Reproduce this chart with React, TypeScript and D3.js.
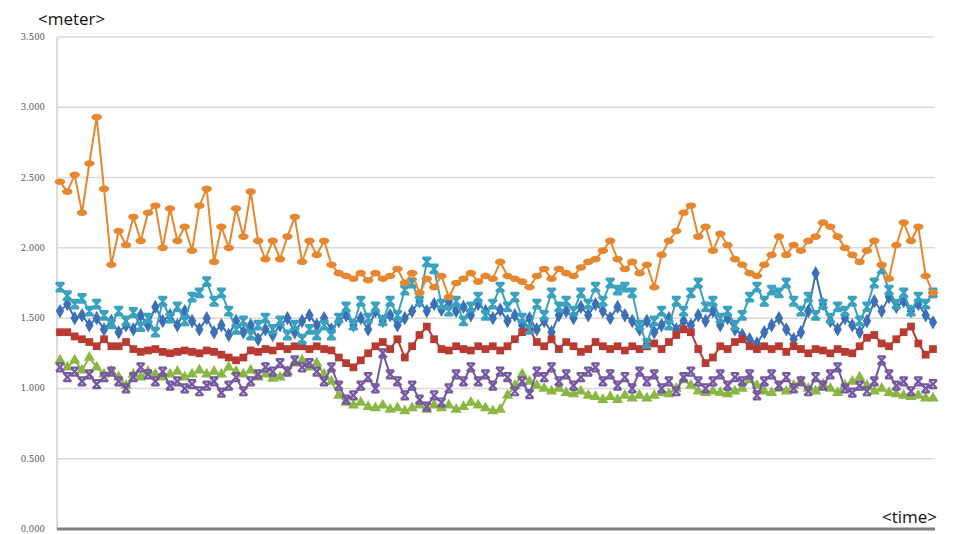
import React, { useEffect, useRef } from "react";
import { select, scaleLinear, line, symbol, symbolDiamond, symbolSquare, symbolTriangle } from "d3";

// readings (meter), one per time step
const blueDiamond = [
  1.55, 1.6, 1.5, 1.52, 1.45, 1.5, 1.42, 1.48, 1.4, 1.45, 1.42, 1.52, 1.45, 1.58, 1.48, 1.52, 1.45, 1.55, 1.48, 1.42,
  1.5, 1.4, 1.45, 1.38, 1.48, 1.4, 1.45, 1.35, 1.42, 1.38, 1.45, 1.5, 1.4, 1.48, 1.52, 1.45, 1.5, 1.42, 1.48, 1.52,
  1.45, 1.5, 1.42, 1.55, 1.48, 1.52, 1.45, 1.5, 1.55, 1.62, 1.55, 1.6, 1.56, 1.62, 1.55, 1.58, 1.52, 1.6, 1.55, 1.5,
  1.56, 1.48, 1.52, 1.45, 1.5, 1.42, 1.48, 1.4, 1.52, 1.55, 1.5, 1.58, 1.52, 1.6, 1.55, 1.5, 1.58, 1.52, 1.48, 1.42,
  1.48, 1.4, 1.45, 1.5, 1.42, 1.48, 1.45, 1.52, 1.48, 1.55, 1.45, 1.5, 1.42, 1.38, 1.35, 1.32, 1.4, 1.45, 1.5, 1.42,
  1.35, 1.4, 1.55, 1.82, 1.6, 1.48, 1.42, 1.5, 1.45, 1.4, 1.48, 1.62, 1.55, 1.65, 1.58, 1.62, 1.55, 1.6, 1.52, 1.47
];
const redSquare = [
  1.4, 1.4, 1.37, 1.35, 1.33, 1.3, 1.35, 1.3, 1.3, 1.33, 1.28, 1.26, 1.27, 1.28, 1.26, 1.25, 1.26, 1.27, 1.26, 1.25,
  1.27, 1.26, 1.24, 1.22, 1.2, 1.22, 1.27, 1.26, 1.28, 1.27, 1.3, 1.28, 1.3, 1.3, 1.28, 1.3, 1.28, 1.27, 1.22, 1.18,
  1.15, 1.2, 1.25, 1.3, 1.33, 1.28, 1.35, 1.22, 1.3, 1.38, 1.44, 1.35, 1.28, 1.27, 1.3, 1.28, 1.27, 1.3, 1.28, 1.3,
  1.27, 1.3, 1.35, 1.4, 1.42, 1.33, 1.3, 1.35, 1.28, 1.33, 1.3, 1.26, 1.28, 1.33, 1.3, 1.28, 1.3, 1.27, 1.3, 1.28,
  1.3, 1.32, 1.28, 1.33, 1.38, 1.42, 1.4, 1.28, 1.18, 1.22, 1.3, 1.28, 1.33, 1.35, 1.3, 1.28, 1.3, 1.28, 1.3, 1.26,
  1.3, 1.28, 1.25, 1.28, 1.27, 1.25, 1.28, 1.26, 1.25, 1.3, 1.36, 1.38, 1.32, 1.3, 1.35, 1.4, 1.44, 1.32, 1.24, 1.28
];
const greenTriangle = [
  1.2, 1.15, 1.2, 1.13, 1.22, 1.15, 1.1, 1.12, 1.08, 1.02, 1.1, 1.08, 1.12, 1.1, 1.08, 1.1, 1.12, 1.08, 1.1, 1.13,
  1.1, 1.12, 1.1, 1.15, 1.12, 1.1, 1.13, 1.08, 1.1, 1.07, 1.08, 1.12, 1.18, 1.2, 1.15, 1.18, 1.1, 1.05, 0.95, 0.9,
  0.88, 0.9, 0.87, 0.86, 0.88, 0.85, 0.86, 0.84, 0.86, 0.88, 0.85, 0.88, 0.86, 0.88, 0.85, 0.87, 0.9, 0.88, 0.86, 0.84,
  0.85, 0.95, 1.02, 1.1, 1.05, 1.02, 1.0, 0.98, 1.0, 0.97, 0.96, 0.98, 0.95, 0.94, 0.92, 0.94, 0.92, 0.95, 0.93, 0.95,
  0.93, 0.95, 0.97, 0.96, 1.0, 1.06, 1.02, 0.98, 0.97, 0.98, 0.97, 0.96, 0.98, 1.0, 1.06, 1.02, 0.98, 0.97, 1.0, 0.98,
  1.02, 1.05, 1.0, 0.98, 1.03, 1.0, 0.97, 1.02, 1.05, 1.08, 1.02, 0.98, 1.0, 0.97, 0.96, 0.95, 0.94, 0.95, 0.93, 0.93
];
const purpleCross = [
  1.15, 1.08, 1.12, 1.05, 1.1, 1.03, 1.08, 1.12, 1.05, 1.0, 1.08, 1.15, 1.1, 1.05, 1.12, 1.02, 1.05, 1.0, 1.03, 0.98,
  1.02, 1.05, 0.97, 1.02, 1.08, 0.98, 1.05, 1.1, 1.15, 1.12, 1.18, 1.12, 1.2, 1.15, 1.18, 1.12, 1.05, 1.15, 1.02, 0.92,
  0.95, 1.02, 1.08, 1.0, 1.25, 1.1, 1.05, 0.95, 1.02, 0.92, 0.87, 0.95, 0.9, 1.0, 1.1, 1.05, 1.15, 1.05, 1.1, 1.02,
  1.12, 1.08, 0.98, 1.05, 0.96, 1.12, 1.08, 1.15, 1.05, 1.1, 1.02, 1.08, 1.12, 1.15, 1.05, 1.1, 1.02, 1.08, 1.0, 1.12,
  1.05, 1.1, 1.0, 1.05, 0.98, 1.08, 1.12, 1.05, 1.0, 1.05, 1.1, 1.02, 1.08, 1.05, 1.1, 0.95, 1.05, 1.1, 1.02, 1.08,
  1.0, 1.05, 0.98, 1.08, 1.02, 1.1, 1.15, 1.0, 0.97, 1.02, 0.98, 1.05, 1.2, 1.1, 1.02, 1.05, 0.98, 1.05, 1.0, 1.03
];
const tealStar = [
  1.72, 1.66, 1.6, 1.64, 1.55, 1.6, 1.52, 1.46, 1.55, 1.48, 1.54, 1.44, 1.5, 1.4, 1.62, 1.5, 1.58, 1.48, 1.65, 1.68,
  1.76, 1.62, 1.68, 1.55, 1.42, 1.48, 1.38, 1.45, 1.5, 1.42, 1.48, 1.38, 1.45, 1.35, 1.42, 1.38, 1.45, 1.38, 1.5, 1.58,
  1.45, 1.62, 1.5, 1.58, 1.48, 1.62, 1.52, 1.7, 1.75, 1.62, 1.9, 1.85, 1.6, 1.55, 1.62, 1.48, 1.58, 1.65, 1.52, 1.6,
  1.72, 1.58, 1.65, 1.5, 1.42, 1.6, 1.52, 1.68, 1.58, 1.62, 1.55, 1.68, 1.6, 1.72, 1.62, 1.75, 1.7, 1.72, 1.68, 1.45,
  1.32, 1.48, 1.55, 1.45, 1.62, 1.55, 1.68, 1.75, 1.58, 1.62, 1.5, 1.55, 1.45, 1.52, 1.65, 1.72, 1.62, 1.7, 1.68, 1.75,
  1.62, 1.55, 1.65, 1.52, 1.6, 1.5, 1.58, 1.55, 1.62, 1.48, 1.58, 1.75, 1.85, 1.7, 1.6, 1.68, 1.55, 1.65, 1.6, 1.68
];
const orangeCircle = [
  2.47, 2.4, 2.52, 2.25, 2.6, 2.93, 2.42, 1.88, 2.12, 2.02, 2.22, 2.05, 2.25, 2.3, 2.0, 2.28, 2.05, 2.15, 1.98, 2.3,
  2.42, 1.9, 2.15, 2.0, 2.28, 2.08, 2.4, 2.05, 1.92, 2.05, 1.92, 2.08, 2.22, 1.9, 2.05, 1.95, 2.05, 1.88, 1.82, 1.8,
  1.78, 1.82, 1.77, 1.82, 1.78, 1.8, 1.85, 1.75, 1.82, 1.68, 1.78, 1.72, 1.8, 1.65, 1.75, 1.78, 1.82, 1.76, 1.8, 1.78,
  1.9, 1.8, 1.78, 1.76, 1.72, 1.8, 1.85, 1.78, 1.85, 1.82, 1.8, 1.86, 1.9, 1.92, 1.98, 2.05, 1.92, 1.85, 1.9, 1.82,
  1.88, 1.72, 1.95, 2.05, 2.12, 2.25, 2.3, 2.08, 2.15, 1.98, 2.1, 2.02, 1.92, 1.88, 1.82, 1.8, 1.88, 1.95, 2.08, 1.95,
  2.02, 1.98, 2.05, 2.08, 2.18, 2.15, 2.08, 2.0, 1.95, 1.9, 1.98, 2.05, 1.88, 1.78, 2.02, 2.18, 2.05, 2.15, 1.8, 1.68
];

const yTicks = [0, 0.5, 1, 1.5, 2, 2.5, 3, 3.5];

// drawing order as in the spreadsheet: later series sit on top
const series = [
  { name: "s1", values: blueDiamond, color: "#3c6fb6", marker: "diamond" },
  { name: "s2", values: redSquare, color: "#b93a31", marker: "square" },
  { name: "s3", values: greenTriangle, color: "#8ab743", marker: "triangle" },
  { name: "s4", values: purpleCross, color: "#7557a2", marker: "cross" },
  { name: "s5", values: tealStar, color: "#38a1c0", marker: "star" },
  { name: "s6", values: orangeCircle, color: "#e6862e", marker: "circle" }
];

const W = 955;
const H = 534;
const margin = { left: 57, right: 20, top: 37, bottom: 5 };

const App = () => {
  const svgRef = useRef<SVGSVGElement>(null);

  useEffect(() => {
    const svg = select(svgRef.current);
    svg.selectAll("*").remove();

    const n = orangeCircle.length;
    const xScale = scaleLinear().domain([0, n - 1]).range([60, 933]);
    const yScale = scaleLinear().domain([0, 3.5]).range([H - margin.bottom, margin.top]);

    // gridlines
    svg
      .append("g")
      .selectAll("line")
      .data(yTicks.filter(t => t > 0))
      .join("line")
      .attr("x1", margin.left)
      .attr("x2", 935)
      .attr("y1", d => yScale(d))
      .attr("y2", d => yScale(d))
      .attr("stroke", "#d9d9d9")
      .attr("stroke-width", 1.5);

    // y axis line
    svg
      .append("line")
      .attr("x1", margin.left)
      .attr("x2", margin.left)
      .attr("y1", yScale(3.5))
      .attr("y2", yScale(0))
      .attr("stroke", "#cfcfcf")
      .attr("stroke-width", 1.5);

    // tick labels
    svg
      .append("g")
      .selectAll("text")
      .data(yTicks)
      .join("text")
      .attr("x", 45)
      .attr("y", d => yScale(d))
      .attr("dy", "0.35em")
      .attr("text-anchor", "end")
      .attr("font-family", "'DejaVu Serif', serif")
      .attr("font-size", 8.5)
      .attr("fill", "#555")
      .text(d => d.toFixed(3));

    const lineGen = line<number>()
      .x((_, i) => xScale(i))
      .y(d => yScale(d));

    series.forEach(s => {
      const g = svg.append("g");
      g.append("path")
        .attr("d", lineGen(s.values))
        .attr("fill", "none")
        .attr("stroke", s.color)
        .attr("stroke-width", 2);

      const pts = g
        .selectAll("g.m")
        .data(s.values.map((v, i) => [xScale(i), yScale(v)]))
        .join("g")
        .attr("class", "m")
        .attr("transform", d => `translate(${d[0]},${d[1]})`);

      if (s.marker === "circle") {
        pts.append("ellipse").attr("rx", 5.2).attr("ry", 3.3).attr("fill", s.color);
      } else if (s.marker === "diamond") {
        pts.append("path").attr("d", symbol(symbolDiamond, 60)()).attr("fill", s.color);
      } else if (s.marker === "square") {
        pts.append("path").attr("d", symbol(symbolSquare, 60)()).attr("fill", s.color);
      } else if (s.marker === "triangle") {
        pts.append("path").attr("d", symbol(symbolTriangle, 55)()).attr("fill", s.color);
      } else if (s.marker === "cross") {
        pts.append("path")
          .attr("d", "M-4,-4L4,4M-4,4L4,-4M-4,-4H4M-4,4H4")
          .attr("stroke", s.color)
          .attr("stroke-width", 2.2)
          .attr("fill", "none");
      } else {
        pts.append("path")
          .attr("d", "M-4.3,-4.3L4.3,4.3M-4.3,4.3L4.3,-4.3M0,-4.6V4.6M-4.3,-4.3H4.3M-4.3,4.3H4.3")
          .attr("stroke", s.color)
          .attr("stroke-width", 2.2)
          .attr("fill", "none");
      }
    });

    // x axis (bottom)
    svg
      .append("line")
      .attr("x1", margin.left)
      .attr("x2", 935)
      .attr("y1", yScale(0))
      .attr("y2", yScale(0))
      .attr("stroke", "#7f7f7f")
      .attr("stroke-width", 3);

    // axis titles
    svg
      .append("text")
      .attr("x", 38)
      .attr("y", 25)
      .attr("font-family", "'Open Sans', sans-serif")
      .attr("font-size", 17)
      .attr("fill", "#111")
      .text("<meter>");
    svg
      .append("text")
      .attr("x", 882)
      .attr("y", 523)
      .attr("font-family", "'Open Sans', sans-serif")
      .attr("font-size", 17)
      .attr("fill", "#111")
      .text("<time>");
  }, []);

  return (
    <svg
      ref={svgRef}
      width={W}
      height={H}
      style={{ position: "absolute", left: 0, top: 0, background: "#fff" }}
    />
  );
};

export default App;
